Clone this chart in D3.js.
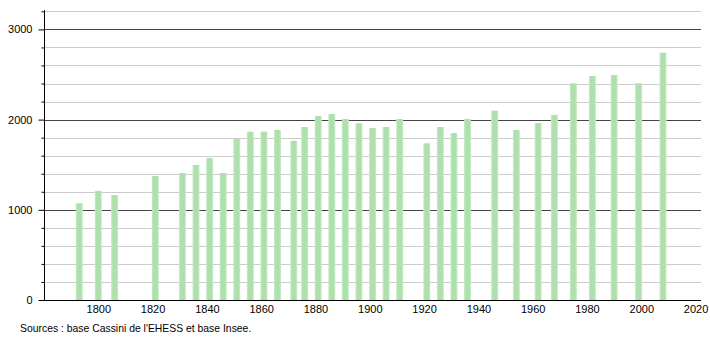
<!DOCTYPE html>
<html>
<head>
<meta charset="utf-8">
<script src="https://cdn.jsdelivr.net/npm/d3@7"></script>
<style>
  body { margin: 0; background: #fff; }
  text { font-family: "Liberation Sans", Arial, sans-serif; }
</style>
</head>
<body>
<div class="chart-container"></div>
<script>
const years = [1793, 1800, 1806, 1821, 1831, 1836, 1841, 1846, 1851, 1856, 1861, 1866,
  1872, 1876, 1881, 1886, 1891, 1896, 1901, 1906, 1911, 1921, 1926, 1931, 1936,
  1946, 1954, 1962, 1968, 1975, 1982, 1990, 1999, 2008];
const population = [1072, 1210, 1164, 1375, 1408, 1497, 1574, 1408, 1785, 1866, 1866, 1885,
  1763, 1918, 2040, 2062, 2007, 1959, 1907, 1918, 2007, 1737, 1918, 1851, 2007,
  2099, 1885, 1962, 2051, 2402, 2483, 2494, 2402, 2742];
const xTicks = [1800, 1820, 1840, 1860, 1880, 1900, 1920, 1940, 1960, 1980, 2000, 2020];
const yTicks = [0, 1000, 2000, 3000];
const sourceText = "Sources : base Cassini de l'EHESS et base Insee.";

const width = 710, height = 340;
const plot = { left: 44, right: 701, top: 10, bottom: 300 };

const svg = d3.select(".chart-container")
  .append("svg")
  .attr("width", width)
  .attr("height", height);

const x = d3.scaleLinear().domain([1780, 2022]).range([plot.left, plot.right]);
const y = d3.scaleLinear().domain([0, 3215]).range([plot.bottom, plot.top]);

// bar fill, faded at the edges
const grad = svg.append("defs").append("linearGradient").attr("id", "barGrad");
grad.append("stop").attr("offset", "0%").attr("stop-color", "#c9ecc9");
grad.append("stop").attr("offset", "25%").attr("stop-color", "#aee0ae");
grad.append("stop").attr("offset", "75%").attr("stop-color", "#aee0ae");
grad.append("stop").attr("offset", "100%").attr("stop-color", "#c9ecc9");

// gridlines, every 200
const grid = d3.range(200, 3201, 200);
svg.append("g")
  .selectAll("line")
  .data(grid)
  .join("line")
  .attr("x1", plot.left)
  .attr("x2", plot.right)
  .attr("y1", d => Math.round(y(d)) + 0.5)
  .attr("y2", d => Math.round(y(d)) + 0.5)
  .style("stroke", d => d % 1000 === 0 ? "#444" : "#ccc")
  .style("stroke-width", 1);

// bars
const data = years.map((yr, i) => ({ year: yr, value: population[i] }));
const barW = 7;
svg.append("g")
  .selectAll("rect")
  .data(data)
  .join("rect")
  .attr("x", d => x(d.year) - barW / 2)
  .attr("y", d => y(d.value))
  .attr("width", barW)
  .attr("height", d => y(0) - y(d.value))
  .style("fill", "url(#barGrad)");

// y axis
const yAxis = d3.axisLeft(y)
  .tickValues(d3.range(0, 3201, 200))
  .tickSize(3)
  .tickFormat(d => yTicks.includes(d) ? d : "");
const gy = svg.append("g")
  .attr("transform", "translate(" + (plot.left + 0.5) + ",0)")
  .call(yAxis);
gy.select(".domain").attr("d", "M0," + plot.top + "V" + plot.bottom).style("stroke", "#000");
gy.selectAll(".tick line")
  .attr("x2", d => d % 1000 === 0 ? -6 : -3)
  .style("stroke", "#000");
gy.selectAll(".tick text")
  .attr("x", -12)
  .style("font-size", "11px")
  .style("fill", "#000");

// x axis
const xAxis = d3.axisBottom(x).tickValues(xTicks).tickSize(0).tickFormat(d3.format("d"));
const gx = svg.append("g")
  .attr("transform", "translate(0," + (plot.bottom + 0.5) + ")")
  .call(xAxis);
gx.select(".domain").attr("d", "M" + (plot.left - 5) + ",0H" + plot.right).style("stroke", "#000");
gx.selectAll(".tick text")
  .attr("dy", "0.9em")
  .style("font-size", "11px")
  .style("fill", "#000");

svg.append("text")
  .attr("x", 20)
  .attr("y", 332)
  .style("font-size", "10.4px")
  .style("fill", "#000")
  .text(sourceText);
</script>
</body>
</html>
